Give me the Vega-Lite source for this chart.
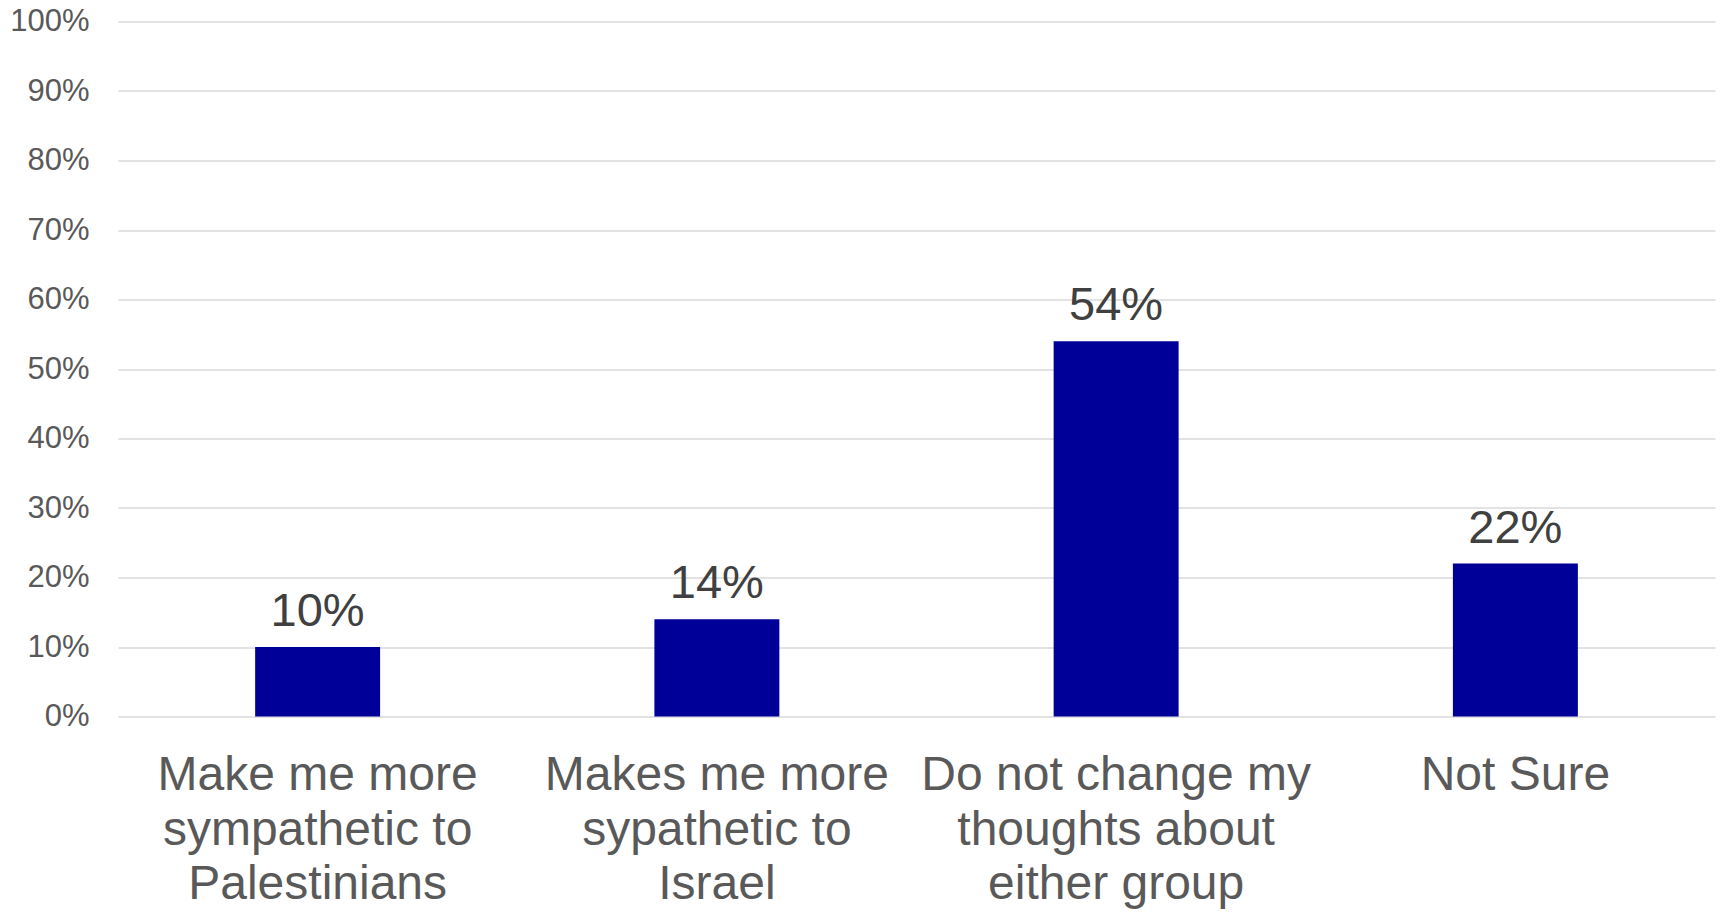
{
  "$schema": "https://vega.github.io/schema/vega-lite/v6.json",
  "autosize": "none",
  "padding": {"left": 118, "top": 21.5, "right": 10, "bottom": 197.5},
  "width": 1597,
  "height": 695,
  "background": "white",
  "config": {
    "view": {"stroke": null},
    "font": "Liberation Sans"
  },
  "data": {
    "values": [
      {"category": "Make me more\nsympathetic to\nPalestinians", "value": 0.10},
      {"category": "Makes me more\nsypathetic to\nIsrael", "value": 0.14},
      {"category": "Do not change my\nthoughts about\neither group", "value": 0.54},
      {"category": "Not Sure", "value": 0.22}
    ]
  },
  "encoding": {
    "x": {
      "field": "category",
      "type": "nominal",
      "sort": null,
      "scale": {"paddingInner": 0.687, "paddingOuter": 0.3435},
      "axis": {
        "title": null,
        "labelAngle": 0,
        "labelFontSize": 48,
        "labelColor": "#595959",
        "labelLineHeight": 54.5,
        "labelPadding": 35,
        "labelBaseline": "top",
        "labelExpr": "split(datum.label, '\\n')",
        "labelLimit": 0,
        "ticks": false,
        "domain": false,
        "grid": false
      }
    },
    "y": {
      "field": "value",
      "type": "quantitative",
      "scale": {"domain": [0, 1], "nice": false},
      "axis": {
        "title": null,
        "values": [0, 0.1, 0.2, 0.3, 0.4, 0.5, 0.6, 0.7, 0.8, 0.9, 1.0],
        "format": ".0%",
        "labelFontSize": 31,
        "labelColor": "#595959",
        "labelPadding": 29,
        "ticks": false,
        "domain": false,
        "grid": true,
        "gridColor": "#d9d9d9",
        "gridWidth": 1.5
      }
    }
  },
  "layer": [
    {"mark": {"type": "bar", "color": "#000099"}},
    {
      "mark": {"type": "text", "baseline": "alphabetic", "dy": -21, "fontSize": 47, "color": "#404040"},
      "encoding": {"text": {"field": "value", "type": "quantitative", "format": ".0%"}}
    }
  ]
}
